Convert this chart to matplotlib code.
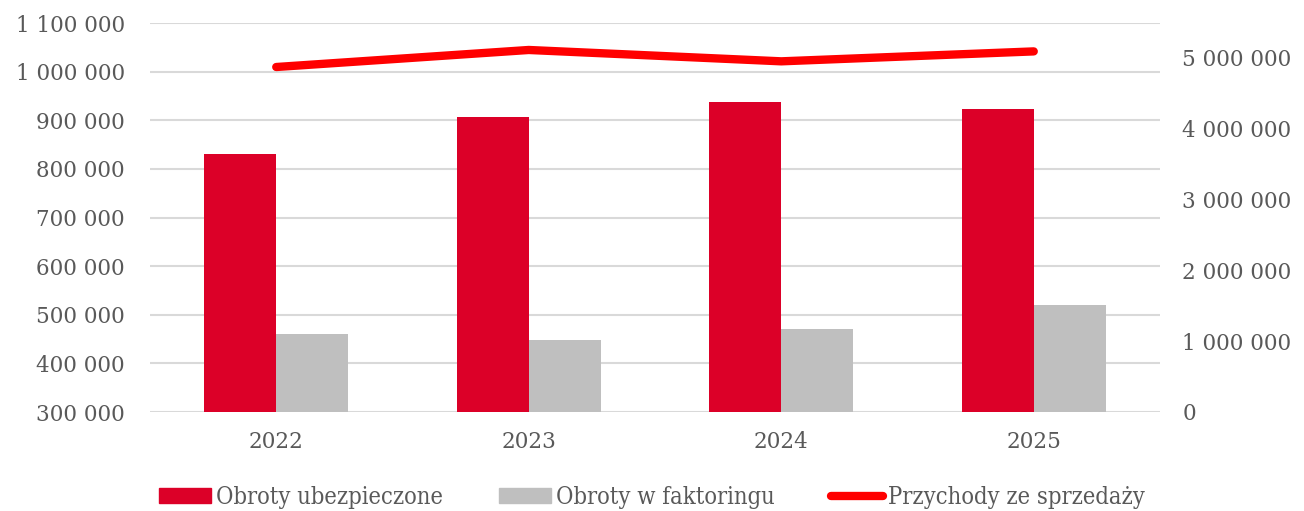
import matplotlib.pyplot as plt
import numpy as np
from matplotlib.ticker import FuncFormatter
from matplotlib.patches import Patch
from matplotlib.lines import Line2D

# dane
years = ["2022", "2023", "2024", "2025"]
obroty_ubezpieczone = [830000, 906000, 937000, 923000]
obroty_faktoring = [460000, 449000, 470000, 520000]
przychody = [4860000, 5100000, 4940000, 5080000]

red_bar = "#DC0028"
gray_bar = "#BFBFBF"
red_line = "#FF0000"
txt = "#595959"

plt.rcParams["font.family"] = ["DejaVu Serif"]

def fmt(v, pos):
    return f"{int(v):,}".replace(",", " ")

fig = plt.figure(figsize=(13.04, 5.11), dpi=100)
ax = fig.add_axes([150/1304, 1-412/511, 1010/1304, 389/511])
ax2 = ax.twinx()

x = np.arange(len(years))
w = 0.285
ax.bar(x - w/2, obroty_ubezpieczone, w, color=red_bar, zorder=2)
ax.bar(x + w/2, obroty_faktoring, w, color=gray_bar, zorder=2)
ax2.plot(x, przychody, color=red_line, lw=6, solid_capstyle="round", zorder=3)

ax.set_xlim(-0.5, 3.5)
ax.set_ylim(300000, 1100000)
ax.set_yticks(np.arange(300000, 1100001, 100000))
ax2.set_ylim(0, 5480000)
ax2.set_yticks(np.arange(0, 5000001, 1000000))
ax.yaxis.set_major_formatter(FuncFormatter(fmt))
ax2.yaxis.set_major_formatter(FuncFormatter(fmt))

ax.set_xticks(x)
ax.set_xticklabels(years)
ax.grid(axis="y", color="#D9D9D9", lw=1.5, zorder=0)
ax.set_axisbelow(True)

for a in (ax, ax2):
    for s in a.spines.values():
        s.set_visible(False)
    a.tick_params(length=0, labelsize=15.5, colors=txt)
ax.tick_params(axis="y", pad=18)
ax.tick_params(axis="x", pad=14)
ax2.tick_params(axis="y", pad=16)

handles = [
    Patch(color=red_bar),
    Patch(color=gray_bar),
    Line2D([], [], color=red_line, lw=6, solid_capstyle="round"),
]
labels = ["Obroty ubezpieczone", "Obroty w faktoringu", "Przychody ze sprzedaży"]
leg = fig.legend(handles, labels, loc="center", bbox_to_anchor=(0.5, 1-497/511),
                 ncol=3, frameon=False, handlelength=2.2,
                 handleheight=0.6, handletextpad=0.2, columnspacing=2.4,
                 prop={"stretch": "condensed", "size": 17})
for t in leg.get_texts():
    t.set_color(txt)

fig.savefig("out.png", dpi=100)
